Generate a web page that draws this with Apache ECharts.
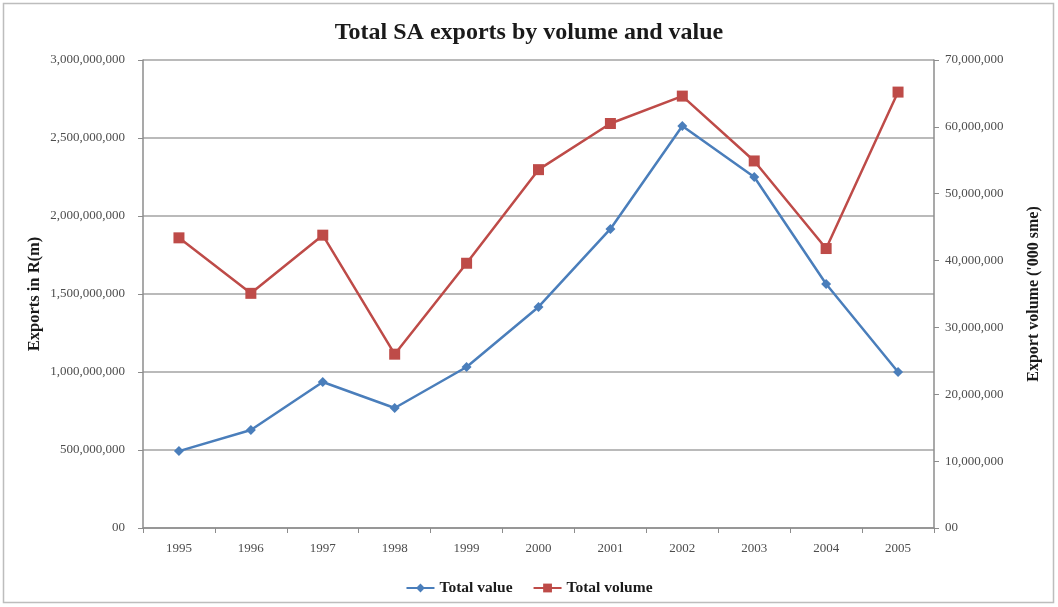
<!DOCTYPE html>
<html>
<head>
<meta charset="utf-8">
<script src="https://cdn.jsdelivr.net/npm/echarts@6/dist/echarts.min.js"></script>
<style>
  html, body { margin: 0; padding: 0; background: #ffffff; }
  #chart { width: 1058px; height: 607px; }
</style>
</head>
<body>
<div id="chart"></div>
<script>
// Years on the category axis
const years = ['1995', '1996', '1997', '1998', '1999', '2000', '2001', '2002', '2003', '2004', '2005'];
// Export value in rand (left axis)
const totalValue = [493000000, 628000000, 936000000, 769000000, 1032000000, 1417000000, 1917000000, 2577000000, 2250000000, 1564000000, 1000000000];
// Export volume in '000 sme (right axis)
const totalVolume = [43400000, 35100000, 43800000, 26000000, 39600000, 53600000, 60500000, 64600000, 54900000, 41800000, 65200000];

const serif = '"Liberation Serif", "DejaVu Serif", serif';
const fmt = v => v === 0 ? '00' : v.toLocaleString('en-US');

const chart = echarts.init(document.getElementById('chart'), null, { renderer: 'canvas' });
chart.setOption({
  backgroundColor: '#ffffff',
  animation: false,
  textStyle: { fontFamily: serif },
  graphic: [{
    type: 'rect',
    shape: { x: 3.5, y: 3.5, width: 1050, height: 599 },
    style: { fill: 'none', stroke: '#bdbdbd', lineWidth: 1.5 },
    silent: true
  }],
  title: {
    text: 'Total SA exports by volume and value',
    left: 'center',
    top: 16,
    textStyle: { fontFamily: serif, fontSize: 24, fontWeight: 'bold', color: '#1a1a1a' }
  },
  legend: {
    bottom: 6,
    left: 'center',
    itemWidth: 28,
    itemHeight: 11,
    itemGap: 20,
    textStyle: { fontFamily: serif, fontSize: 15.5, fontWeight: 'bold', color: '#1a1a1a' },
    data: ['Total value', 'Total volume']
  },
  grid: { left: 143, right: 124, top: 60, bottom: 79 },
  xAxis: {
    type: 'category',
    data: years,
    boundaryGap: true,
    axisLine: { lineStyle: { color: '#8c8c8c', width: 1.5 } },
    axisTick: { show: true, length: 5, lineStyle: { color: '#8c8c8c' } },
    axisLabel: { margin: 14, fontFamily: serif, fontSize: 13, color: '#4d4d4d' }
  },
  yAxis: [{
    type: 'value',
    min: 0, max: 3000000000, interval: 500000000,
    name: 'Exports in R(m)',
    nameLocation: 'middle',
    nameGap: 100,
    nameMoveOverlap: false,
    nameRotate: 90,
    nameTextStyle: { fontFamily: serif, fontSize: 16.5, fontWeight: 'bold', color: '#1a1a1a' },
    axisLine: { show: true, lineStyle: { color: '#8c8c8c', width: 1.5 } },
    axisTick: { show: true, length: 5, lineStyle: { color: '#8c8c8c' } },
    axisLabel: { margin: 18, fontFamily: serif, fontSize: 13, color: '#4d4d4d', formatter: fmt },
    splitLine: { show: true, lineStyle: { color: '#a3a3a3', width: 1.5 } }
  }, {
    type: 'value',
    position: 'right',
    min: 0, max: 70000000, interval: 10000000,
    name: "Export volume ('000 sme)",
    nameLocation: 'middle',
    nameGap: 92,
    nameRotate: 90,
    nameTextStyle: { fontFamily: serif, fontSize: 16, fontWeight: 'bold', color: '#1a1a1a' },
    axisLine: { show: true, lineStyle: { color: '#8c8c8c', width: 1.5 } },
    axisTick: { show: true, length: 5, lineStyle: { color: '#8c8c8c' } },
    axisLabel: { margin: 11, fontFamily: serif, fontSize: 13, color: '#4d4d4d', formatter: fmt },
    splitLine: { show: false }
  }],
  series: [{
    name: 'Total value',
    type: 'line',
    yAxisIndex: 0,
    data: totalValue,
    color: '#4a7ebb',
    symbol: 'diamond',
    symbolSize: 10,
    lineStyle: { width: 2.5, color: '#4a7ebb' },
    itemStyle: { color: '#4a7ebb' }
  }, {
    name: 'Total volume',
    type: 'line',
    yAxisIndex: 1,
    data: totalVolume,
    color: '#be4b48',
    symbol: 'rect',
    symbolSize: 11,
    lineStyle: { width: 2.5, color: '#be4b48' },
    itemStyle: { color: '#be4b48' }
  }]
});
</script>
</body>
</html>
